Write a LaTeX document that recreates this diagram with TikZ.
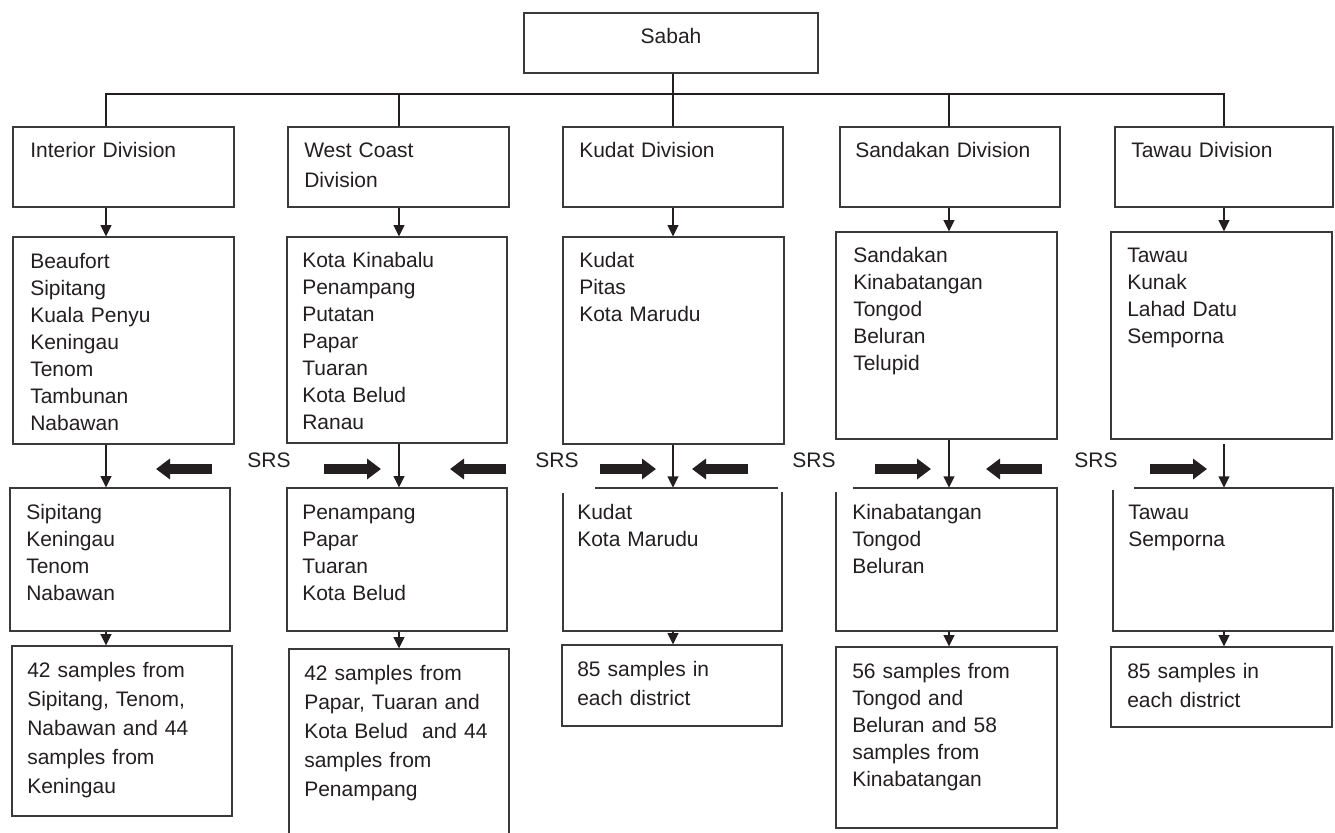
\documentclass[tikz,border=0pt]{standalone}
\usepackage{fontspec}
\setmainfont{Liberation Sans}
\usetikzlibrary{arrows.meta,fit,calc}
\definecolor{ink}{HTML}{231F20}
\definecolor{edge}{HTML}{3A3A3A}
\newcommand\fsA{\fontsize{15.75pt}{20.25pt}\selectfont}
\newcommand\fsB{\fontsize{15.75pt}{21.75pt}\selectfont}
\newcommand\fsC{\fontsize{15.75pt}{22.5pt}\selectfont}
\begin{document}
\begin{tikzpicture}[x=0.75pt,y=-0.75pt,
  box/.style={draw=edge,line width=0.85pt,inner sep=0pt},
  hollow/.style={inner sep=0pt},
  side/.style={draw=edge,line width=0.85pt},
  tree/.style={draw=ink,line width=0.8pt},
  arr/.style={draw=ink,line width=1.4pt,-{Triangle[length=8.5pt,width=8pt]}},
  blk/.style={draw=ink,line width=7.5pt,line cap=butt,-{Triangle[length=10.5pt,width=15pt]}},
  txt/.style={anchor=base west,inner sep=0pt,text width=170pt,align=left,text=ink,font=\fsA},
  lbl/.style={inner sep=0pt,text=ink,font=\fsA}]
\useasboundingbox (0,0) rectangle (1335,832);

% column coordinates on the bus
\coordinate (c1) at (106,94);
\coordinate (c2) at (399,94);
\coordinate (c3) at (673,94);
\coordinate (c4) at (949,94);
\coordinate (c5) at (1224,94);

% top
\node[box,fit={(524,13)(818,73)}] (sabah) {};
\node[lbl,anchor=base] at (671,43) {Sabah};

% divisions
\node[box,fit={(13,127)(234,207)}] (d1) {};
\node[txt,font=\fsC] at (30,157) {Interior Division};
\node[box,fit={(288,127)(509,207)}] (d2) {};
\node[txt,font=\fsC] at (304,157) {West Coast\\Division};
\node[box,fit={(563,127)(783,207)}] (d3) {};
\node[txt] at (579,157) {Kudat Division};
\node[box,fit={(840,127)(1060,207)}] (d4) {};
\node[txt] at (855,157) {Sandakan Division};
\node[box,fit={(1115,127)(1333,207)}] (d5) {};
\node[txt] at (1131,157) {Tawau Division};

% all districts
\node[box,fit={(13,237)(234,444)}] (r1) {};
\node[txt] at (30,268) {Beaufort\\Sipitang\\Kuala Penyu\\Keningau\\Tenom\\Tambunan\\Nabawan};
\node[box,fit={(287,237)(507,443)}] (r2) {};
\node[txt] at (302,267) {Kota Kinabalu\\Penampang\\Putatan\\Papar\\Tuaran\\Kota Belud\\Ranau};
\node[box,fit={(563,237)(784,444)}] (r3) {};
\node[txt] at (579,267) {Kudat\\Pitas\\Kota Marudu};
\node[box,fit={(836,232)(1057,439)}] (r4) {};
\node[txt] at (853,262) {Sandakan\\Kinabatangan\\Tongod\\Beluran\\Telupid};
\node[box,fit={(1111,232)(1332,439)}] (r5) {};
\node[txt] at (1127,262) {Tawau\\Kunak\\Lahad Datu\\Semporna};

% selected districts
\node[box,fit={(10,488)(230,631)}] (s1) {};
\node[txt] at (26,519) {Sipitang\\Keningau\\Tenom\\Nabawan};
\node[box,fit={(287,488)(507,631)}] (s2) {};
\node[txt] at (302,519) {Penampang\\Papar\\Tuaran\\Kota Belud};
\node[hollow,fit={(563,488)(782,631)}] (s3) {};
\draw[side] (563,493) -- (563,631) -- (782,631) -- (782,492);
\draw[side] (595,488) -- (778,488);
\node[txt] at (577,519) {Kudat\\Kota Marudu};
\node[hollow,fit={(836,488)(1057,631)}] (s4) {};
\draw[side] (836,492) -- (836,631) -- (1057,631) -- (1057,488) -- (853,488);
\node[txt] at (852,519) {Kinabatangan\\Tongod\\Beluran};
\node[hollow,fit={(1113,488)(1333,631)}] (s5) {};
\draw[side] (1113,490) -- (1113,631) -- (1333,631) -- (1333,488) -- (1134,488);
\node[txt] at (1128,519) {Tawau\\Semporna};

% samples
\node[box,fit={(12,646)(232,816)}] (t1) {};
\node[txt,font=\fsB] at (27,677) {42 samples from\\Sipitang, Tenom,\\Nabawan and 44\\samples from\\Keningau};
\node[box,fit={(289,649)(509,845)}] (t2) {};
\node[txt,font=\fsB] at (304,680) {42 samples from\\Papar, Tuaran and\\Kota Belud~ and 44\\samples from\\Penampang};
\node[box,fit={(562,645)(782,726)}] (t3) {};
\node[txt,font=\fsB] at (577,676) {85 samples in\\each district};
\node[box,fit={(836,647)(1057,828)}] (t4) {};
\node[txt,font=\fsA] at (852,678) {56 samples from\\Tongod and\\Beluran and 58\\samples from\\Kinabatangan};
\node[box,fit={(1111,647)(1332,727)}] (t5) {};
\node[txt,font=\fsB] at (1127,678) {85 samples in\\each district};

% tree
\draw[tree] (sabah.south -| c3) -- (c3);
\draw[tree] (d1.north -| c1) -- (c1) -- (c5) -- (d5.north -| c5);
\draw[tree] (c2) -- (d2.north -| c2);
\draw[tree] (c3) -- (d3.north -| c3);
\draw[tree] (c4) -- (d4.north -| c4);

% arrows division -> districts
\draw[arr] (d1.south -| c1) -- (r1.north -| c1);
\draw[arr] (d2.south -| c2) -- (r2.north -| c2);
\draw[arr] (d3.south -| c3) -- (r3.north -| c3);
\draw[arr] (d4.south -| c4) -- (r4.north -| c4);
\draw[arr] (d5.south -| c5) -- (r5.north -| c5);

% arrows districts -> selected
\coordinate (g5) at (1224,444);
\draw[arr] (r1.south -| c1) -- (s1.north -| c1);
\draw[arr] (r2.south -| c2) -- (s2.north -| c2);
\draw[arr] (r3.south -| c3) -- (s3.north -| c3);
\draw[arr] (r4.south -| c4) -- (s4.north -| c4);
\draw[arr] (g5) -- (s5.north -| c5);

% arrows selected -> samples
\draw[arr] (s1.south -| c1) -- (t1.north -| c1);
\draw[arr] (s2.south -| c2) -- (t2.north -| c2);
\draw[arr] (s3.south -| c3) -- (t3.north -| c3);
\draw[arr] (s4.south -| c4) -- (t4.north -| c4);
\draw[arr] (s5.south -| c5) -- (t5.north -| c5);

% SRS labels
\node[lbl] (srs1) at (269,460) {SRS};
\node[lbl] (srs2) at (557,460) {SRS};
\node[lbl] (srs3) at (814,460) {SRS};
\node[lbl] (srs4) at (1096,460) {SRS};

% block arrows
\coordinate (b1a) at (212,469); \coordinate (b1b) at (156,469);
\coordinate (b2a) at (324,469); \coordinate (b2b) at (381,469);
\coordinate (b3a) at (506,469); \coordinate (b3b) at (450,469);
\coordinate (b4a) at (600,469); \coordinate (b4b) at (656,469);
\coordinate (b5a) at (748,469); \coordinate (b5b) at (692,469);
\coordinate (b6a) at (875,469); \coordinate (b6b) at (931,469);
\coordinate (b7a) at (1042,469); \coordinate (b7b) at (986,469);
\coordinate (b8a) at (1150,469); \coordinate (b8b) at (1207,469);
\foreach \i in {1,...,8} \draw[blk] (b\i a) -- (b\i b);
\end{tikzpicture}
\end{document}
